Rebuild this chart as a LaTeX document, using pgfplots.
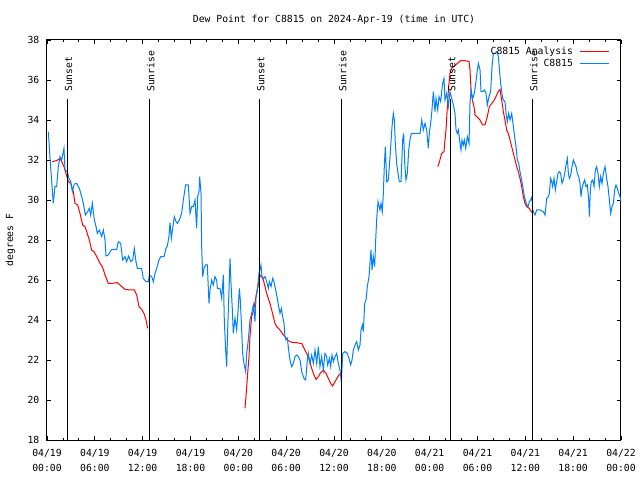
\documentclass[border=0pt]{standalone}
\usepackage{pgfplots}
\pgfplotsset{compat=1.18}
\usepackage{fontspec}
\setmainfont{DejaVu Sans Mono}
\definecolor{anared}{HTML}{FF0000}
\definecolor{obsblue}{HTML}{0080FF}
\pgfplotsset{legend image code/.code={\draw[#1] (0bp,0.5bp) -- (29bp,0.5bp);}}
\begin{document}
\begin{tikzpicture}
\begin{axis}[
  at={(0,0)}, anchor=south west,
  scale only axis, width=574bp, height=400bp,
  xmin=0, xmax=72, ymin=18, ymax=38,
  xtick={0,6,...,72},
  xticklabels={{04/19\\00:00},{04/19\\06:00},{04/19\\12:00},{04/19\\18:00},{04/20\\00:00},{04/20\\06:00},{04/20\\12:00},{04/20\\18:00},{04/21\\00:00},{04/21\\06:00},{04/21\\12:00},{04/21\\18:00},{04/22\\00:00}},
  minor x tick num=2,
  ytick={18,20,...,38},
  tick align=inside,
  major tick length=4bp, minor tick length=2bp,
  every tick/.style={black, line width=0.8bp},
  axis line style={line width=1bp},
  /pgf/number format/assume math mode=true,
  font=\fontsize{9.8}{12}\selectfont,
  xticklabel style={align=center, font=\fontsize{9.8}{15}\selectfont, inner sep=0pt, yshift=-9bp},
  yticklabel style={inner sep=0pt, xshift=-7.5bp},
  ylabel={degrees F},
  ylabel style={at={(axis description cs:-0.0635,0.5)}, anchor=center, inner sep=0pt},
  title={Dew Point for C8815 on 2024-Apr-19 (time in UTC)},
  title style={at={(0.5,1)}, anchor=south, inner sep=0pt, yshift=9bp},
  legend style={at={(1,1)}, anchor=north east, xshift=-11bp, yshift=-7.5bp,
    draw=none, fill=none, inner sep=0pt, outer sep=0pt, row sep=3.5bp,
    nodes={inner sep=0pt, text height=7bp, text depth=2bp},
    /tikz/every odd column/.append style={column sep=7bp}},
  legend cell align=right,
  legend plot pos=right,
]
% analysis (red), three segments
\addplot[anared, line width=1bp] coordinates {
(0.67,31.92) (1.21,31.97) (1.63,32.08) (1.84,31.92) (2.13,31.67) (2.38,31.33) (2.68,30.92) (2.97,30.83)
(3.30,30.42) (3.51,29.83) (3.85,29.75) (4.14,29.33) (4.47,28.75) (4.77,28.67) (4.98,28.42) (5.31,28.00)
(5.60,27.50) (5.90,27.42) (6.23,27.17) (6.65,26.83) (6.94,26.67) (7.28,26.25) (7.69,25.83) (8.11,25.83)
(8.82,25.87) (9.16,25.75) (9.78,25.53) (10.41,25.50) (10.95,25.50) (11.25,25.25) (11.54,24.67) (11.87,24.53)
(12.17,24.33) (12.42,24.00) (12.63,23.58)
};
\addlegendentry{C8815 Analysis}
\addplot[anared, line width=1bp, forget plot] coordinates {
(24.83,19.58) (24.96,20.17) (25.05,20.67) (25.17,21.33) (25.34,22.17) (25.46,23.17) (25.67,24.17) (25.80,24.33)
(26.00,24.67) (26.17,25.08) (26.38,25.50) (26.55,25.83) (26.72,26.25) (26.93,26.17) (27.14,26.00) (27.35,25.67)
(27.55,25.33) (27.76,25.08) (27.97,24.83) (28.18,24.50) (28.39,24.17) (28.60,23.83) (28.81,23.67) (29.23,23.50)
(29.56,23.30) (29.85,23.17) (30.15,23.00) (30.48,22.92) (30.81,22.87) (31.32,22.87) (31.74,22.83) (31.95,22.83)
(32.24,22.58) (32.57,22.33) (32.91,22.00) (33.20,21.58) (33.49,21.25) (33.74,21.03) (34.04,21.17) (34.33,21.37)
(34.66,21.50) (35.00,21.33) (35.29,21.08) (35.58,20.83) (35.83,20.70) (36.13,20.92) (36.42,21.12) (36.67,21.28)
(36.92,21.30)
};
\addplot[anared, line width=1bp, forget plot] coordinates {
(49.01,31.67) (49.17,31.83) (49.34,32.08) (49.51,32.33) (49.80,32.42) (49.92,33.00) (50.05,33.50) (50.22,34.67)
(50.38,35.67) (50.55,36.33) (50.76,36.58) (50.97,36.67) (51.39,36.80) (51.89,36.97) (52.43,36.97) (52.94,36.92)
(53.06,36.50) (53.19,35.50) (53.36,35.00) (53.56,34.67) (53.69,34.25) (53.90,34.17) (54.32,34.00) (54.65,33.75)
(54.94,33.75) (55.23,34.17) (55.49,34.67) (55.74,34.80) (56.07,34.97) (56.41,35.25) (56.61,35.42) (56.82,35.53)
(57.03,35.00) (57.24,34.42) (57.45,34.00) (57.66,33.50) (57.87,33.33) (58.08,33.00) (58.29,32.67) (58.50,32.33)
(58.71,32.00) (58.91,31.67) (59.12,31.42) (59.33,31.08) (59.54,30.67) (59.75,30.17) (59.96,29.83) (60.17,29.67)
(60.50,29.58) (60.75,29.42) (60.92,29.33)
};
% observations (blue)
\addplot[obsblue, line width=1bp] coordinates {
(0.17,33.42) (0.38,32.08) (0.79,29.83) (1.00,30.67) (1.21,30.67) (1.42,31.67) (1.63,32.17) (1.84,32.00)
(2.13,32.58) (2.26,31.50) (2.55,31.42) (2.76,31.08) (2.97,30.92) (3.18,30.42) (3.43,30.80) (3.72,30.83)
(4.06,30.58) (4.35,30.17) (4.56,29.83) (4.81,29.25) (5.10,29.42) (5.31,29.58) (5.48,29.25) (5.69,29.83)
(5.94,29.00) (6.15,28.67) (6.31,28.33) (6.56,28.50) (6.86,28.17) (7.07,28.50) (7.28,28.00) (7.40,27.20)
(7.69,27.25) (8.11,27.53) (8.74,27.53) (8.95,27.92) (9.24,27.83) (9.49,27.00) (9.78,27.17) (9.99,26.92)
(10.24,27.20) (10.50,26.92) (10.75,27.00) (10.95,27.58) (11.16,26.92) (11.33,26.58) (11.87,26.58) (12.08,26.08)
(12.42,25.92) (12.71,25.92) (12.84,26.25) (13.13,26.17) (13.34,25.92) (13.55,26.33) (13.76,26.58) (14.05,27.00)
(14.26,27.17) (14.68,27.17) (14.93,27.58) (15.09,27.70) (15.30,28.17) (15.43,28.87) (15.60,28.08) (15.76,28.58)
(15.97,29.17) (16.18,28.92) (16.35,28.83) (16.60,29.00) (16.89,29.33) (17.10,30.00) (17.39,30.75) (17.73,30.75)
(17.94,29.33) (18.15,29.67) (18.36,29.67) (18.57,30.00) (18.77,28.58) (18.90,30.17) (19.07,30.42) (19.15,31.17)
(19.32,30.33) (19.40,27.67) (19.53,26.17) (19.69,26.58) (19.90,26.75) (20.11,26.75) (20.32,24.83) (20.45,25.50)
(20.66,26.00) (20.86,25.75) (21.07,26.17) (21.28,26.00) (21.37,25.58) (21.70,25.58) (21.91,25.08) (22.12,26.25)
(22.24,24.00) (22.41,22.50) (22.54,21.67) (22.66,23.50) (22.83,25.50) (22.96,27.08) (23.08,25.83) (23.25,24.50)
(23.37,23.33) (23.58,24.08) (23.79,23.50) (24.00,24.67) (24.13,25.58) (24.25,25.00) (24.42,23.50) (24.54,22.33)
(24.71,21.83) (24.92,21.42) (25.05,22.33) (25.25,23.00) (25.46,24.00) (25.67,24.33) (25.88,24.75) (26.09,23.92)
(26.22,25.17) (26.38,25.50) (26.59,26.33) (26.84,26.75) (26.97,26.17) (27.14,26.08) (27.35,26.17) (27.55,25.92)
(27.76,25.58) (27.89,25.92) (28.10,25.67) (28.31,26.08) (28.47,25.92) (28.73,25.42) (28.89,25.08) (29.06,24.67)
(29.23,24.33) (29.40,24.58) (29.56,24.17) (29.73,23.83) (29.85,23.17) (29.98,23.00) (30.15,23.08) (30.31,22.50)
(30.48,22.00) (30.69,21.67) (30.90,21.83) (31.11,22.17) (31.32,22.25) (31.53,22.17) (31.74,22.00) (31.95,21.42)
(32.24,21.08) (32.45,21.00) (32.66,22.00) (32.78,22.33) (32.99,21.83) (33.20,22.25) (33.41,21.83) (33.62,22.50)
(33.83,21.83) (34.04,22.67) (34.24,21.67) (34.45,22.17) (34.66,21.50) (34.87,22.33) (35.08,22.17) (35.21,21.75)
(35.42,22.08) (35.58,21.67) (35.75,22.25) (35.92,21.92) (36.13,22.17) (36.34,22.33) (36.54,21.83) (36.75,21.50)
(36.92,20.92) (37.09,22.33) (37.38,22.42) (37.67,22.33) (37.88,22.08) (38.09,21.75) (38.26,22.00) (38.43,22.50)
(38.64,22.75) (38.84,22.92) (39.05,22.50) (39.26,22.75) (39.39,23.50) (39.56,23.75) (39.68,23.42) (39.85,24.83)
(40.02,25.00) (40.18,25.67) (40.39,26.17) (40.64,27.50) (40.77,26.50) (40.93,27.17) (41.10,26.67) (41.23,28.00)
(41.35,29.00) (41.52,29.92) (41.77,29.50) (41.90,29.83) (42.06,29.42) (42.19,30.33) (42.31,31.67) (42.44,32.67)
(42.61,30.92) (42.82,31.00) (43.03,32.17) (43.28,33.67) (43.44,34.33) (43.57,34.00) (43.69,32.83) (43.86,31.83)
(44.03,31.33) (44.20,30.92) (44.41,30.92) (44.61,33.00) (44.74,33.33) (44.87,31.83) (45.03,31.00) (45.20,31.33)
(45.37,32.50) (45.53,33.00) (45.70,33.33) (46.16,33.33) (46.79,33.33) (47.00,34.00) (47.21,33.50) (47.42,33.83)
(47.63,33.50) (47.83,32.58) (47.96,33.33) (48.17,34.00) (48.29,34.50) (48.46,35.42) (48.67,34.42) (48.80,35.08)
(49.01,34.50) (49.17,35.17) (49.38,34.92) (49.51,35.42) (49.63,35.83) (49.80,36.08) (49.92,35.00) (50.13,35.33)
(50.34,34.67) (50.55,35.42) (50.76,35.08) (50.97,34.75) (51.18,34.33) (51.31,33.50) (51.47,33.33) (51.60,33.50)
(51.81,32.83) (51.93,32.50) (52.06,33.00) (52.22,32.75) (52.35,33.00) (52.52,32.58) (52.73,33.17) (52.94,32.83)
(53.06,34.83) (53.19,35.50) (53.40,35.08) (53.60,35.33) (53.81,35.92) (53.98,36.50) (54.11,36.83) (54.32,36.50)
(54.44,35.42) (54.65,35.42) (54.86,35.50) (55.07,35.33) (55.23,34.75) (55.44,35.17) (55.65,35.42) (55.82,36.67)
(55.99,37.33) (56.20,37.33) (56.41,37.42) (56.61,37.17) (56.74,36.58) (56.91,35.83) (57.12,35.17) (57.24,35.00)
(57.45,34.92) (57.58,34.33) (57.74,33.92) (57.91,34.33) (58.08,34.00) (58.29,34.33) (58.50,33.67) (58.66,33.17)
(58.83,32.67) (59.00,32.00) (59.17,31.83) (59.33,31.42) (59.54,31.00) (59.75,30.50) (59.88,30.17) (60.00,30.00)
(60.17,29.75) (60.34,29.67) (60.50,29.92) (60.67,30.00) (60.84,30.17) (60.92,29.50) (61.21,29.25) (61.42,29.50)
(61.84,29.50) (62.26,29.42) (62.47,29.25) (62.68,30.08) (62.89,30.17) (63.01,30.33) (63.18,31.08) (63.31,30.92)
(63.43,30.67) (63.60,31.08) (63.76,30.50) (63.93,30.92) (64.10,31.33) (64.27,31.42) (64.43,31.33) (64.60,30.83)
(64.77,31.00) (64.94,31.33) (65.10,31.75) (65.27,32.08) (65.40,31.33) (65.52,31.08) (65.69,31.25) (65.86,31.67)
(66.02,32.00) (66.19,31.83) (66.36,31.67) (66.52,31.33) (66.69,31.17) (66.86,30.83) (66.98,30.17) (67.11,30.58)
(67.28,30.83) (67.44,31.00) (67.61,30.67) (67.78,30.75) (67.95,30.00) (68.03,29.17) (68.16,30.50) (68.28,30.92)
(68.45,31.00) (68.62,30.67) (68.78,31.50) (68.95,31.67) (69.12,31.33) (69.28,30.67) (69.45,31.17) (69.62,30.83)
(69.79,31.33) (70.00,31.67) (70.20,31.08) (70.37,30.67) (70.54,30.00) (70.71,29.33) (70.87,29.67) (71.04,29.83)
(71.21,30.50) (71.37,30.75) (71.54,30.58) (71.71,30.33) (71.88,30.17) (72.00,29.92)
};
\addlegendentry{C8815}
% sunset / sunrise markers
\addplot[black, line width=1bp, forget plot] coordinates {(2.51,18) (2.51,35.05)};
\addplot[black, line width=1bp, forget plot] coordinates {(12.83,18) (12.83,35.05)};
\addplot[black, line width=1bp, forget plot] coordinates {(26.63,18) (26.63,35.05)};
\addplot[black, line width=1bp, forget plot] coordinates {(36.92,18) (36.92,35.05)};
\addplot[black, line width=1bp, forget plot] coordinates {(50.60,18) (50.60,35.05)};
\addplot[black, line width=1bp, forget plot] coordinates {(60.88,18) (60.88,35.05)};
\node[xshift=1.5bp, rotate=90, anchor=west, inner sep=0pt] at (axis cs:2.51,35.4) {Sunset};
\node[xshift=1.5bp, rotate=90, anchor=west, inner sep=0pt] at (axis cs:12.83,35.4) {Sunrise};
\node[xshift=1.5bp, rotate=90, anchor=west, inner sep=0pt] at (axis cs:26.63,35.4) {Sunset};
\node[xshift=1.5bp, rotate=90, anchor=west, inner sep=0pt] at (axis cs:36.92,35.4) {Sunrise};
\node[xshift=1.5bp, rotate=90, anchor=west, inner sep=0pt] at (axis cs:50.60,35.4) {Sunset};
\node[xshift=1.5bp, rotate=90, anchor=west, inner sep=0pt] at (axis cs:60.88,35.4) {Sunrise};
\end{axis}
\pgfresetboundingbox
\useasboundingbox (-47bp,-40bp) rectangle (593bp,440bp);
\end{tikzpicture}
\end{document}
